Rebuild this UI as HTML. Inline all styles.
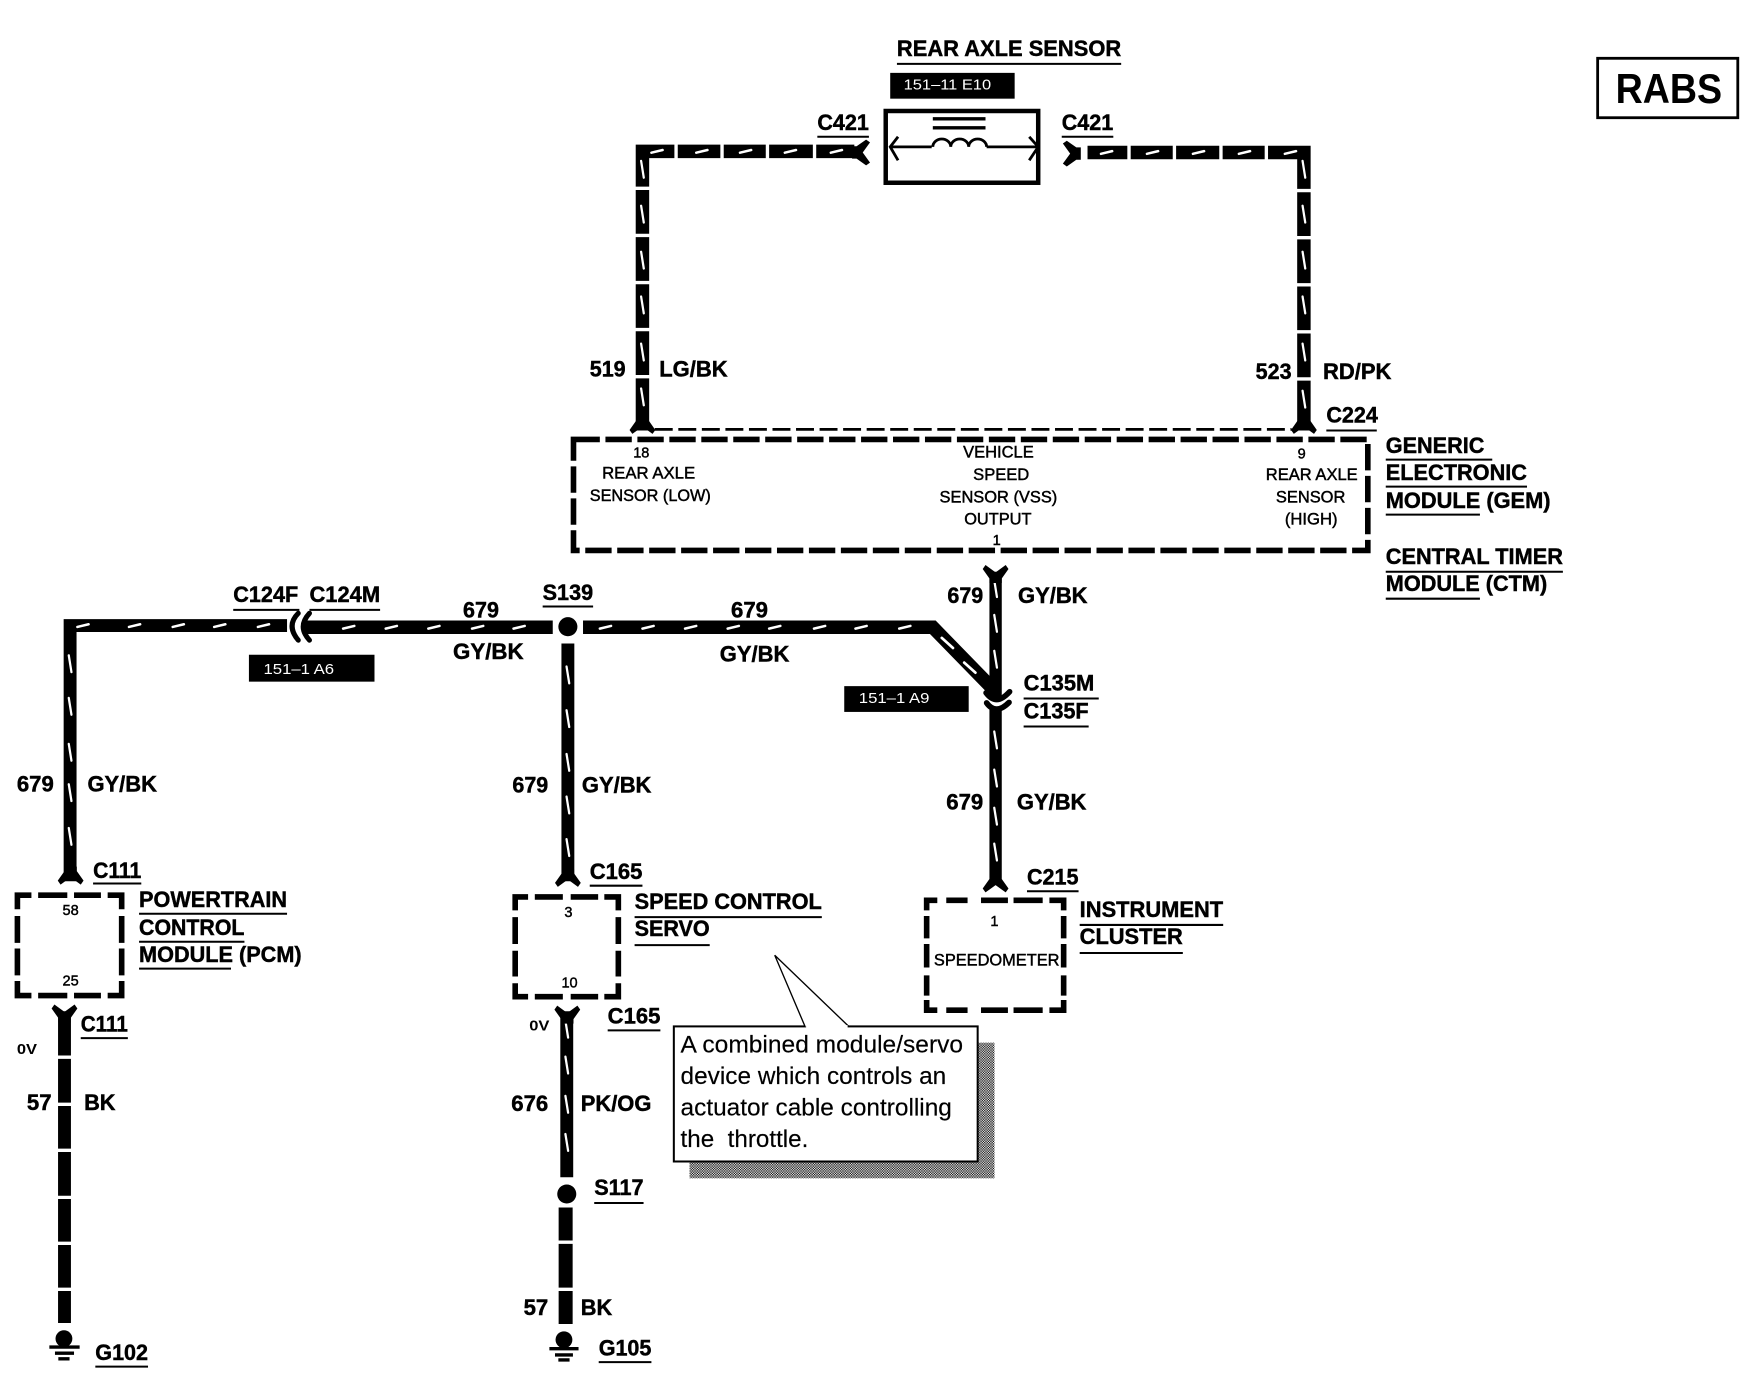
<!DOCTYPE html>
<html><head><meta charset="utf-8"><title>RABS wiring diagram</title>
<style>
html,body{margin:0;padding:0;background:#fff}
svg{display:block}
text{font-family:"Liberation Sans",Arial,sans-serif;fill:#000}
.b{font-weight:bold;font-size:19.5px;stroke:#000;stroke-width:.4}
.s{font-size:14.5px;stroke:#000;stroke-width:.4}
.n{font-size:13px;stroke:#000;stroke-width:.4}
.v{font-weight:bold;font-size:13px}
.w{font-size:13px;fill:#fff}
.c{font-size:21.5px;stroke:#000;stroke-width:.15}
</style></head><body>
<svg xmlns="http://www.w3.org/2000/svg" width="1758" height="1392" viewBox="0 0 1568 1241.6">
<defs>
<pattern id="st" width="2.2" height="2.2" patternUnits="userSpaceOnUse"><rect width="2.2" height="2.2" fill="#fff"/><rect width="1.1" height="1.1" fill="#000"/><rect x="1.1" y="1.1" width="1.1" height="1.1" fill="#000"/></pattern>
<path id="f" d="M-5.500-7L-5.500-3L-11.500 5.500L-9 9L0 2.500L9 9L11.500 5.500L5.500-3L5.500-7Z" fill="#000"/>
<path id="hs" d="M-5 1.200L5-1.200" stroke="#fff" stroke-width="2.200" stroke-linecap="round"/>
<path id="vs" d="M-1.200-7.500L1.200 7.500" stroke="#fff" stroke-width="2" stroke-linecap="round"/>
</defs>
<rect width="1568" height="1241.6" fill="#fff"/>

<!-- RABS tag -->
<rect x="1425" y="52" width="125" height="53" fill="none" stroke="#000" stroke-width="2.500"/>
<text x="1441" y="92" font-size="37" font-weight="bold" textLength="95" lengthAdjust="spacingAndGlyphs">RABS</text>

<!-- Sensor -->
<text class="b" x="800" y="50" textLength="200" lengthAdjust="spacingAndGlyphs">REAR AXLE SENSOR</text>
<rect x="794" y="65" width="111" height="23"/>
<text class="w" x="806" y="80" textLength="78" lengthAdjust="spacingAndGlyphs">151–11 E10</text>
<rect x="790" y="99" width="136" height="64" fill="#fff" stroke="#000" stroke-width="4"/>
<path d="M832 106H879M832 114H879" stroke="#000" stroke-width="3" fill="none"/>
<path d="M794 131H831M880 131H926M801 122L794 131L801 143M918 122L926 131L918 143" stroke="#000" stroke-width="2.500" fill="none"/>
<path d="M832 131A8 7 0 0 1 848 131A8 7 0 0 1 864 131A8 7 0 0 1 880 131" stroke="#000" stroke-width="2.500" fill="none"/>

<!-- Wires -->
<g fill="none" stroke="#000" stroke-width="12">
<path d="M573 384V135H762"/>
<path d="M1163 384V136H970"/>
<path d="M62.500 786V558H256" stroke-width="11.500"/>
<path d="M272 559.500H493"/>
<path d="M520 559.500H832L889 618"/>
<path d="M506.500 574V786" stroke-width="11.500"/>
<path d="M888 510V622" stroke-width="11"/>
<path d="M888 630V780" stroke-width="11"/>
<path d="M57.500 902V1180" stroke-width="11.500"/>
<path d="M505.500 902V1050" stroke-width="11.500"/>
<path d="M504.500 1077V1181" stroke-width="12.500"/>
</g>
<!-- wire breaks -->
<path d="M603 128V142M644 128V142M684.500 128V142M726.500 128V142M1007 129V143M1047.500 129V143M1089 129V143M1129.500 129V143M565 168H581M565 210H581M565 252H581M565 294H581M565 336H581M1155 170H1171M1155 212H1171M1155 254H1171M1155 296H1171M1155 338H1171M50 943H65M50 985H65M50 1026H65M50 1068H65M50 1109H65M50 1150H65M497 1108H512M497 1150H512" stroke="#fff" stroke-width="3" fill="none"/>

<!-- Slash marks -->
<g>
<use href="#hs" x="586" y="135"/><use href="#hs" x="626" y="135"/><use href="#hs" x="665" y="135"/><use href="#hs" x="705" y="135"/><use href="#hs" x="746" y="135"/>
<use href="#hs" x="987" y="136"/><use href="#hs" x="1028" y="136"/><use href="#hs" x="1069" y="136"/><use href="#hs" x="1110" y="136"/><use href="#hs" x="1151" y="136"/>
<use href="#vs" x="573" y="151"/><use href="#vs" x="573" y="191"/><use href="#vs" x="573" y="232"/><use href="#vs" x="573" y="272"/><use href="#vs" x="573" y="314"/><use href="#vs" x="573" y="354"/>
<use href="#vs" x="1163" y="151"/><use href="#vs" x="1163" y="191"/><use href="#vs" x="1163" y="232"/><use href="#vs" x="1163" y="272"/><use href="#vs" x="1163" y="314"/><use href="#vs" x="1163" y="356"/>
<use href="#hs" x="74" y="558"/><use href="#hs" x="120" y="558"/><use href="#hs" x="159" y="558"/><use href="#hs" x="196" y="558"/><use href="#hs" x="235" y="558"/>
<use href="#hs" x="311" y="559.500"/><use href="#hs" x="349" y="559.500"/><use href="#hs" x="387" y="559.500"/><use href="#hs" x="426" y="559.500"/><use href="#hs" x="463" y="559.500"/>
<use href="#hs" x="540" y="559.500"/><use href="#hs" x="578" y="559.500"/><use href="#hs" x="616" y="559.500"/><use href="#hs" x="654" y="559.500"/><use href="#hs" x="691" y="559.500"/><use href="#hs" x="731" y="559.500"/><use href="#hs" x="768" y="559.500"/><use href="#hs" x="807" y="559.500"/>
<path d="M840 569L850 578M860 591L870 600" stroke="#fff" stroke-width="2.400" stroke-linecap="round"/>
<use href="#vs" x="62.500" y="592"/><use href="#vs" x="62.500" y="630"/><use href="#vs" x="62.500" y="671"/><use href="#vs" x="62.500" y="707"/><use href="#vs" x="62.500" y="746"/>
<use href="#vs" x="506.500" y="602"/><use href="#vs" x="506.500" y="641"/><use href="#vs" x="506.500" y="680"/><use href="#vs" x="506.500" y="718"/><use href="#vs" x="506.500" y="756"/>
<use href="#vs" x="888" y="525"/><use href="#vs" x="888" y="556"/><use href="#vs" x="888" y="588"/>
<use href="#vs" x="888" y="660"/><use href="#vs" x="888" y="694"/><use href="#vs" x="888" y="728"/><use href="#vs" x="888" y="760"/>
<use href="#vs" x="505.500" y="918"/><use href="#vs" x="505.500" y="950"/><use href="#vs" x="505.500" y="985"/><use href="#vs" x="505.500" y="1019"/>
</g>

<!-- Connector forks -->
<use href="#f" transform="translate(767 136) rotate(-90)"/>
<use href="#f" transform="translate(957 137) rotate(90)"/>
<use href="#f" transform="translate(573 378)"/>
<use href="#f" transform="translate(1163 378)"/>
<use href="#f" transform="translate(888 513) rotate(180)"/>
<use href="#f" transform="translate(63 780)"/>
<use href="#f" transform="translate(506.500 782)"/>
<use href="#f" transform="translate(888 787)"/>
<use href="#f" transform="translate(57.500 905) rotate(180)"/>
<use href="#f" transform="translate(506 906) rotate(180)"/>
<path d="M266 547Q255 558 266 571M276 547Q265 559 276 571" fill="none" stroke="#000" stroke-width="4.500" stroke-linecap="round"/>
<path d="M879.500 618Q884 624 889 624Q894 624 900.500 617" fill="none" stroke="#000" stroke-width="5" stroke-linecap="round"/>
<path d="M880 627Q884 632.500 889 632.500Q894 632.500 900 626.500" fill="none" stroke="#000" stroke-width="5" stroke-linecap="round"/>

<!-- Splices -->
<circle cx="506.500" cy="559" r="8.500"/>
<circle cx="505.500" cy="1065" r="8.500"/>

<!-- Grounds -->
<circle cx="57" cy="1194" r="7.500"/>
<path d="M44 1201.500H71M49 1207H66M52 1212H62" stroke="#000" stroke-width="3" fill="none"/>
<circle cx="503" cy="1195" r="7.500"/>
<path d="M490 1203H516M495 1208.500H511M498 1213H508" stroke="#000" stroke-width="3" fill="none"/>

<!-- GEM -->
<path d="M584 383H1152" fill="none" stroke="#000" stroke-width="2.500" stroke-dasharray="16 5"/>
<path d="M511.500 392H1220V491H511.500Z" fill="none" stroke="#000" stroke-width="5" stroke-dasharray="23.500 5"/>
<g text-anchor="middle">
<text class="n" x="572" y="408">18</text>
<text class="n" x="889" y="486">1</text>
<text class="n" x="1161" y="409">9</text>
</g>
<text class="s" x="537" y="427" textLength="83" lengthAdjust="spacingAndGlyphs">REAR AXLE</text>
<text class="s" x="526" y="447" textLength="108" lengthAdjust="spacingAndGlyphs">SENSOR (LOW)</text>
<text class="s" x="859" y="408" textLength="63" lengthAdjust="spacingAndGlyphs">VEHICLE</text>
<text class="s" x="868" y="428" textLength="50" lengthAdjust="spacingAndGlyphs">SPEED</text>
<text class="s" x="838" y="448" textLength="105" lengthAdjust="spacingAndGlyphs">SENSOR (VSS)</text>
<text class="s" x="860" y="468" textLength="60" lengthAdjust="spacingAndGlyphs">OUTPUT</text>
<text class="s" x="1129" y="428" textLength="82" lengthAdjust="spacingAndGlyphs">REAR AXLE</text>
<text class="s" x="1138" y="448" textLength="62" lengthAdjust="spacingAndGlyphs">SENSOR</text>
<text class="s" x="1146" y="468" textLength="47" lengthAdjust="spacingAndGlyphs">(HIGH)</text>

<!-- Small modules -->
<path d="M15.500 811V798.500H28M34 798.500H60M66 798.500H90M96 798.500H108.500V811M15.500 817V841M15.500 846V870M108.500 817V841M108.500 846V870M15.500 875V888H28M34 888H60M66 888H90M96 888H108.500V875" fill="none" stroke="#000" stroke-width="5"/>
<path d="M459.500 812V800H471M477 800H502M509 800H533.500M539 800H551.500V812M459.500 818V842M459.500 848V871M551.500 818V842M551.500 848V871M459.500 877V889H471M477 889H502M509 889H533.500M539 889H551.500V877" fill="none" stroke="#000" stroke-width="5"/>
<path d="M826.500 812V803H836M844 803H863M875 803H899M904 803H930M936 803H948.700V812M826.500 817V837M826.500 842V863M826.500 870V888M948.700 817V837M948.700 842V863M948.700 870V888M826.500 892V901H836M844 901H863M875 901H899M904 901H930M936 901H948.700V892" fill="none" stroke="#000" stroke-width="5"/>
<g text-anchor="middle">
<text class="n" x="63" y="816">58</text>
<text class="n" x="63" y="879">25</text>
<text class="n" x="507" y="818">3</text>
<text class="n" x="508" y="881">10</text>
<text class="n" x="887" y="826">1</text>
</g>
<text class="s" x="833" y="861" textLength="112" lengthAdjust="spacingAndGlyphs">SPEEDOMETER</text>

<!-- Reference tags -->
<rect x="222" y="584" width="112" height="24"/>
<text class="w" x="235" y="601" textLength="63" lengthAdjust="spacingAndGlyphs">151–1 A6</text>
<rect x="753" y="612" width="111" height="23"/>
<text class="w" x="766" y="627" textLength="63" lengthAdjust="spacingAndGlyphs">151–1 A9</text>

<!-- Callout -->
<rect x="615" y="930" width="272" height="121" fill="url(#st)"/>
<rect x="601" y="915.500" width="271" height="120.500" fill="#fff" stroke="#000" stroke-width="1.800"/>
<path d="M718 915.500L691 852L757 915.500" fill="#fff" stroke="#000" stroke-width="1.200"/>
<path d="M719 915.500H756" stroke="#fff" stroke-width="2.200"/>
<text class="c" x="607" y="939" textLength="252" lengthAdjust="spacingAndGlyphs">A combined module/servo</text>
<text class="c" x="607" y="967" textLength="237" lengthAdjust="spacingAndGlyphs">device which controls an</text>
<text class="c" x="607" y="995" textLength="242" lengthAdjust="spacingAndGlyphs">actuator cable controlling</text>
<text class="c" x="607" y="1023" textLength="114" lengthAdjust="spacingAndGlyphs">the&#160; throttle.</text>

<!-- Labels -->
<g>
<text class="b" x="729" y="116" textLength="46" lengthAdjust="spacingAndGlyphs">C421</text>
<text class="b" x="947" y="116" textLength="46" lengthAdjust="spacingAndGlyphs">C421</text>
<text class="b" x="526" y="336" textLength="32" lengthAdjust="spacingAndGlyphs">519</text>
<text class="b" x="588" y="336" textLength="61" lengthAdjust="spacingAndGlyphs">LG/BK</text>
<text class="b" x="1120" y="338" textLength="32" lengthAdjust="spacingAndGlyphs">523</text>
<text class="b" x="1180" y="338" textLength="61" lengthAdjust="spacingAndGlyphs">RD/PK</text>
<text class="b" x="1183" y="377" textLength="46" lengthAdjust="spacingAndGlyphs">C224</text>
<text class="b" x="1236" y="404" textLength="88" lengthAdjust="spacingAndGlyphs">GENERIC</text>
<text class="b" x="1236" y="428" textLength="126" lengthAdjust="spacingAndGlyphs">ELECTRONIC</text>
<text class="b" x="1236" y="453" textLength="147" lengthAdjust="spacingAndGlyphs">MODULE (GEM)</text>
<text class="b" x="1236" y="503" textLength="158" lengthAdjust="spacingAndGlyphs">CENTRAL TIMER</text>
<text class="b" x="1236" y="527" textLength="144" lengthAdjust="spacingAndGlyphs">MODULE (CTM)</text>
<text class="b" x="845" y="538" textLength="32" lengthAdjust="spacingAndGlyphs">679</text>
<text class="b" x="908" y="538" textLength="62" lengthAdjust="spacingAndGlyphs">GY/BK</text>
<text class="b" x="208" y="537" textLength="58" lengthAdjust="spacingAndGlyphs">C124F</text>
<text class="b" x="276" y="537" textLength="63" lengthAdjust="spacingAndGlyphs">C124M</text>
<text class="b" x="413" y="551" textLength="32" lengthAdjust="spacingAndGlyphs">679</text>
<text class="b" x="404" y="588" textLength="63" lengthAdjust="spacingAndGlyphs">GY/BK</text>
<text class="b" x="484" y="535" textLength="45" lengthAdjust="spacingAndGlyphs">S139</text>
<text class="b" x="652" y="551" textLength="33" lengthAdjust="spacingAndGlyphs">679</text>
<text class="b" x="642" y="590" textLength="62" lengthAdjust="spacingAndGlyphs">GY/BK</text>
<text class="b" x="913" y="616" textLength="63" lengthAdjust="spacingAndGlyphs">C135M</text>
<text class="b" x="913" y="641" textLength="58" lengthAdjust="spacingAndGlyphs">C135F</text>
<text class="b" x="15" y="706" textLength="33" lengthAdjust="spacingAndGlyphs">679</text>
<text class="b" x="78" y="706" textLength="62" lengthAdjust="spacingAndGlyphs">GY/BK</text>
<text class="b" x="457" y="707" textLength="32" lengthAdjust="spacingAndGlyphs">679</text>
<text class="b" x="519" y="707" textLength="62" lengthAdjust="spacingAndGlyphs">GY/BK</text>
<text class="b" x="844" y="722" textLength="33" lengthAdjust="spacingAndGlyphs">679</text>
<text class="b" x="907" y="722" textLength="62" lengthAdjust="spacingAndGlyphs">GY/BK</text>
<text class="b" x="83" y="783" textLength="43" lengthAdjust="spacingAndGlyphs">C111</text>
<text class="b" x="526" y="784" textLength="47" lengthAdjust="spacingAndGlyphs">C165</text>
<text class="b" x="916" y="789" textLength="46" lengthAdjust="spacingAndGlyphs">C215</text>
<text class="b" x="124" y="809" textLength="132" lengthAdjust="spacingAndGlyphs">POWERTRAIN</text>
<text class="b" x="124" y="834" textLength="94" lengthAdjust="spacingAndGlyphs">CONTROL</text>
<text class="b" x="124" y="858" textLength="145" lengthAdjust="spacingAndGlyphs">MODULE (PCM)</text>
<text class="b" x="566" y="811" textLength="167" lengthAdjust="spacingAndGlyphs">SPEED CONTROL</text>
<text class="b" x="566" y="835" textLength="67" lengthAdjust="spacingAndGlyphs">SERVO</text>
<text class="b" x="963" y="818" textLength="128" lengthAdjust="spacingAndGlyphs">INSTRUMENT</text>
<text class="b" x="963" y="842" textLength="92" lengthAdjust="spacingAndGlyphs">CLUSTER</text>
<text class="b" x="72" y="920" textLength="42" lengthAdjust="spacingAndGlyphs">C111</text>
<text class="b" x="542" y="913" textLength="47" lengthAdjust="spacingAndGlyphs">C165</text>
<text class="v" x="15" y="940" textLength="18" lengthAdjust="spacingAndGlyphs">0V</text>
<text class="v" x="472" y="919" textLength="18" lengthAdjust="spacingAndGlyphs">0V</text>
<text class="b" x="24" y="990" textLength="22" lengthAdjust="spacingAndGlyphs">57</text>
<text class="b" x="75" y="990" textLength="28" lengthAdjust="spacingAndGlyphs">BK</text>
<text class="b" x="456" y="991" textLength="33" lengthAdjust="spacingAndGlyphs">676</text>
<text class="b" x="518" y="991" textLength="63" lengthAdjust="spacingAndGlyphs">PK/OG</text>
<text class="b" x="530" y="1066" textLength="44" lengthAdjust="spacingAndGlyphs">S117</text>
<text class="b" x="467" y="1173" textLength="22" lengthAdjust="spacingAndGlyphs">57</text>
<text class="b" x="518" y="1173" textLength="28" lengthAdjust="spacingAndGlyphs">BK</text>
<text class="b" x="85" y="1213" textLength="47" lengthAdjust="spacingAndGlyphs">G102</text>
<text class="b" x="534" y="1209" textLength="47" lengthAdjust="spacingAndGlyphs">G105</text>
</g>

<!-- Underlines -->
<path fill="none" stroke="#000" stroke-width="1.800" d="M800 57H1000M729 122H775M947 122H993M1183 384H1228M1236 410H1331M1236 434H1362M1236 459H1320M1236 510H1394M1236 534H1320M208 544H267M276 544H339M484 541H529M913 623H980M913 648H971M83 788H126M526 790H573M916 795H962M124 815H256M124 840H218M124 864H206M566 818H733M566 843H633M963 825H1091M963 850H1055M72 926H114M542 919H589M530 1073H574M85 1219H132M534 1215H581"/>
</svg>
</body></html>
